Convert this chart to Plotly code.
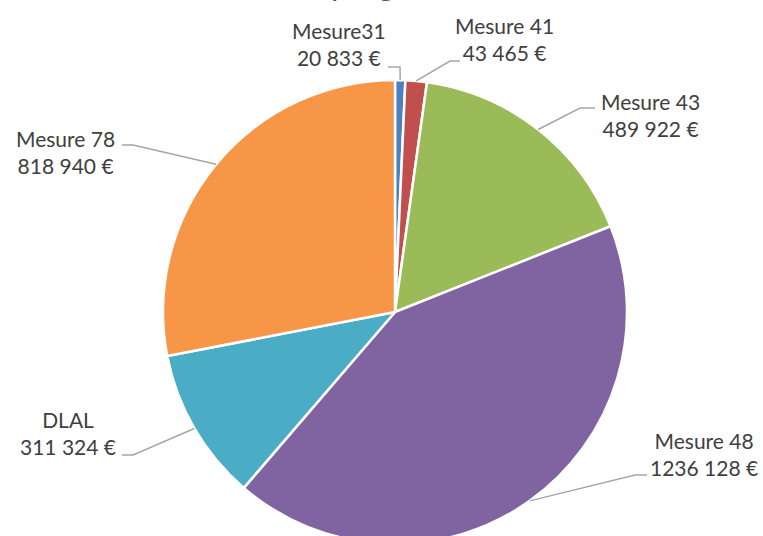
import math
import plotly.graph_objects as go

# ---- data ----
categories = ["Mesure31", "Mesure 41", "Mesure 43", "Mesure 48", "DLAL", "Mesure 78"]
values = [20833, 43465, 489922, 1236128, 311324, 818940]
label_names = ["Mesure31", "Mesure 41", "Mesure 43", "Mesure 48", "DLAL", "Mesure 78"]
colors = ["#4F81BD", "#C0504D", "#9BBB59", "#8064A2", "#4BACC6", "#F79646"]
title_text = "programme"

# ---- layout constants (pixels) ----
W, H = 763, 560
CX, CY, R = 395, 312, 232

# label block centres and elbow points (pixels)
label_pos = [(339, 44), (505, 39), (650, 115), (704, 454), (68, 433), (65, 152)]
elbows = [
    [(400, 67), (388, 67)],
    [(450, 61), (460, 61)],
    [(580, 108), (595, 108)],
    [(635, 475), (647, 475)],
    [(133, 455), (122, 455)],
    [(133, 145), (122, 145)],
]


def px(x):
    return x / W


def py(y):
    return (H - y) / H


def fmt(v):
    s = f"{v:,}".replace(",", " ")
    if v >= 1_000_000:
        s = s.replace(" ", "", 1)
    return s + " €"


fig = go.Figure(
    go.Pie(
        labels=categories,
        values=values,
        sort=False,
        direction="clockwise",
        rotation=0,
        marker=dict(colors=colors, line=dict(color="white", width=2.5)),
        textinfo="none",
        showlegend=False,
        domain=dict(x=[px(CX - R), px(CX + R)], y=[py(CY + R), py(CY - R)]),
    )
)

total = sum(values)
cum = 0
shapes = []
annotations = []
for i, v in enumerate(values):
    mid = (cum + v / 2) / total * 2 * math.pi
    cum += v
    ex = CX + R * math.sin(mid)
    ey = CY - R * math.cos(mid)
    pts = [(ex, ey)] + elbows[i]
    path = "M " + " L ".join(f"{px(x)},{py(y)}" for x, y in pts)
    shapes.append(dict(type="path", path=path, xref="paper", yref="paper",
                       line=dict(color="#A6A6A6", width=1.5)))
    lx, ly = label_pos[i]
    annotations.append(dict(
        x=px(lx), y=py(ly), xref="paper", yref="paper",
        text=f"{label_names[i]}<br>{fmt(v)}", showarrow=False,
        xanchor="center", yanchor="middle", align="center",
        font=dict(family="Lato, Carlito, Calibri, sans-serif", size=21, color="#404040"),
    ))

annotations.append(dict(
    x=px(329), y=py(4), xref="paper", yref="paper", text=title_text,
    showarrow=False, xanchor="left", yanchor="bottom",
    font=dict(family="Lato, Carlito, Calibri, sans-serif", size=32, color="#595959"),
))

fig.update_layout(
    width=W, height=H,
    margin=dict(l=0, r=0, t=0, b=0),
    paper_bgcolor="white",
    plot_bgcolor="white",
    shapes=shapes,
    annotations=annotations,
)

fig.write_html(
    "out.html",
    config={"displayModeBar": False},
    post_script="document.body.style.margin='0';document.body.style.overflow='hidden';document.documentElement.style.overflow='hidden';",
)
